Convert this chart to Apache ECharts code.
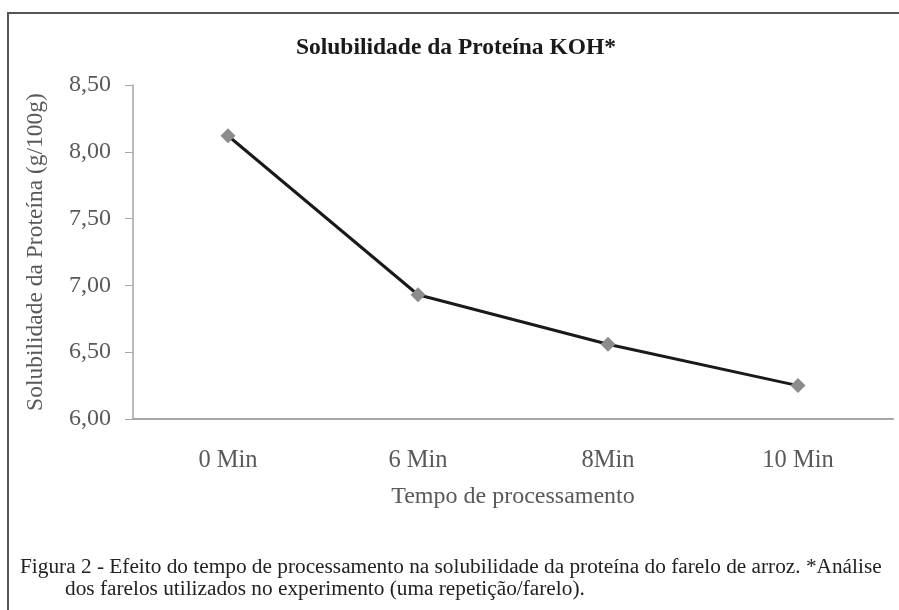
<!DOCTYPE html>
<html>
<head>
<meta charset="utf-8">
<script src="https://cdn.jsdelivr.net/npm/echarts@6/dist/echarts.min.js"></script>
<style>html,body{margin:0;padding:0;background:#fff;}#c{width:899px;height:610px;}</style>
</head>
<body>
<div id="c"></div>
<script>
const categories = ['0 Min', '6 Min', '8Min', '10 Min'];
const solubility = [8.12, 6.93, 6.56, 6.25];
const yTicks = [6.0, 6.5, 7.0, 7.5, 8.0, 8.5];
const chartTitle = 'Solubilidade da Proteína KOH*';
const yName = 'Solubilidade da Proteína (g/100g)';
const xName = 'Tempo de processamento';
const captionLine1 = 'Figura 2 - Efeito do tempo de processamento na solubilidade da proteína do farelo de arroz. *Análise';
const captionLine2 = 'dos farelos utilizados no experimento (uma repetição/farelo).';

const serif = '"Liberation Serif", "DejaVu Serif", serif';
const chart = echarts.init(document.getElementById('c'), null, {renderer: 'canvas'});
chart.setOption({
  animation: false,
  backgroundColor: '#fff',
  title: {
    text: chartTitle,
    left: 451, top: 31, textAlign: 'center',
    textStyle: {fontFamily: serif, fontSize: 23.5, fontWeight: 'bold', color: '#1a1a1a'}
  },
  grid: {left: 133, right: 6, top: 85, bottom: 610 - 419, containLabel: false},
  xAxis: {
    type: 'category',
    data: categories,
    boundaryGap: true,
    name: xName,
    nameLocation: 'middle',
    nameGap: 66,
    nameTextStyle: {fontFamily: serif, fontSize: 24, color: '#595959'},
    axisLine: {lineStyle: {color: '#a6a6a6', width: 2}},
    axisTick: {show: false},
    axisLabel: {fontFamily: serif, fontSize: 24.5, color: '#595959', margin: 29}
  },
  yAxis: {
    type: 'value',
    min: yTicks[0], max: yTicks[yTicks.length - 1], interval: 0.5,
    name: yName,
    nameLocation: 'middle',
    nameGap: 85,
    nameRotate: 90,
    nameTextStyle: {fontFamily: serif, fontSize: 23.5, color: '#595959'},
    axisLine: {show: true, lineStyle: {color: '#a6a6a6', width: 1.5}},
    axisTick: {show: true, length: 8, lineStyle: {color: '#a6a6a6'}},
    splitLine: {show: false},
    axisLabel: {
      fontFamily: serif, fontSize: 24, color: '#595959', margin: 22,
      formatter: v => v.toFixed(2).replace('.', ',')
    }
  },
  series: [{
    type: 'line',
    data: solubility,
    symbol: 'diamond',
    symbolSize: 15,
    lineStyle: {color: '#1a1a1a', width: 3},
    itemStyle: {color: '#8c8c8c'},
    z: 3
  }],
  graphic: [
    {type: 'polyline', shape: {points: [[8, 610], [8, 13], [899, 13]]},
     style: {stroke: '#555', lineWidth: 2, fill: null}},
    {type: 'text', left: 20, top: 557,
     style: {text: captionLine1, font: '21.3px ' + serif, fill: '#222'}},
    {type: 'text', left: 65, top: 579,
     style: {text: captionLine2, font: '21.3px ' + serif, fill: '#222'}}
  ]
});
</script>
</body>
</html>
